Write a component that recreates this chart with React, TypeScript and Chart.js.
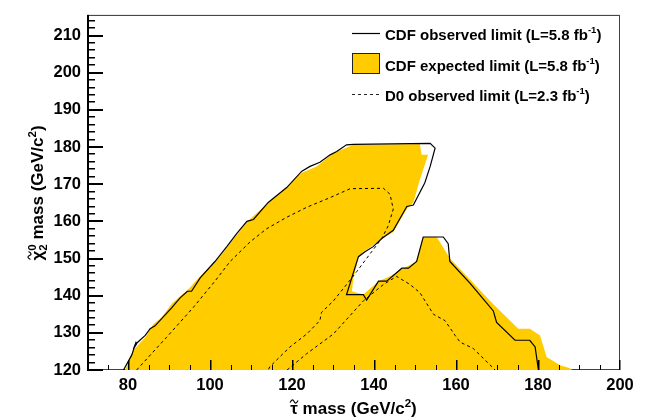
import React, { useEffect, useRef } from 'react';
import { Chart, registerables } from 'chart.js';

Chart.register(...registerables);

// ---------- data ----------
const X_MIN = 70;
const X_MAX = 200;
const Y_MIN = 120;
const Y_MAX = 215.3;

const xTickValues = [80, 100, 120, 140, 160, 180, 200];
const yTickValues = [120, 130, 140, 150, 160, 170, 180, 190, 200, 210];

// CDF observed limit (solid contour)
const observedX = [78.9, 80.9, 82.0, 81.3, 82.3, 84.2, 85.4, 86.6, 88.6, 90.7, 92.7, 94.5, 95.5, 97.6, 101.2, 104.1, 106.5, 109.0, 110.6, 114.2, 118.7, 122.4, 124.4, 126.8, 129.3, 130.9, 133.3, 135.0, 153.7, 154.9, 153.7, 152.4, 149.6, 148.0, 146.3, 144.7, 141.9, 139.8, 137.8, 136.2, 133.3, 137.4, 138.2, 141.1, 143.1, 146.8, 148.4, 150.4, 152.0, 156.9, 158.1, 158.5, 163.4, 169.1, 169.9, 174.4, 178.0, 179.3, 180.1];
const observedY = [120, 124.0, 127.6, 125.6, 127.4, 129.3, 131.1, 131.9, 134.3, 136.8, 139.4, 141.2, 141.2, 144.8, 149.2, 153.2, 156.7, 160.0, 160.5, 165.1, 169.1, 173.5, 174.8, 175.9, 177.9, 178.8, 180.6, 180.7, 181.0, 179.7, 174.8, 170.4, 164.4, 164.0, 160.7, 157.6, 155.4, 153.2, 151.8, 150.5, 140.3, 140.3, 138.8, 143.9, 143.9, 147.4, 147.4, 149.2, 155.8, 155.8, 154.0, 149.2, 143.4, 135.9, 132.8, 128.0, 128.0, 126.2, 120];

// CDF expected limit (filled region)
const expectedX = [79.3, 81.3, 84.2, 86.2, 88.2, 90.7, 94.7, 97.6, 102.4, 106.1, 109.3, 113.8, 118.7, 122.4, 126.0, 130.1, 135.0, 151.2, 151.6, 153.2, 151.2, 149.6, 148.0, 144.7, 142.3, 139.8, 137.4, 136.2, 135.0, 134.6, 137.4, 141.1, 143.9, 147.2, 150.4, 152.0, 155.3, 158.5, 164.2, 169.1, 175.2, 178.0, 180.5, 182.1, 185.4, 187.8, 188.3];
const expectedY = [120, 125.3, 128.8, 132.4, 134.1, 137.9, 141.7, 145.2, 150.5, 155.8, 160.2, 164.6, 169.1, 173.1, 174.8, 178.4, 180.6, 180.8, 177.9, 177.9, 171.3, 165.1, 163.3, 157.1, 155.8, 153.6, 151.8, 150.1, 144.8, 141.2, 140.3, 143.9, 145.2, 147.4, 149.2, 155.8, 155.8, 150.1, 143.4, 137.7, 131.1, 131.1, 129.3, 123.5, 121.3, 120.5, 120];

// D0 observed limit (dashed), two branches
const d0UpperX = [82.1, 89.4, 95.9, 101.2, 104.9, 109.8, 113.8, 118.7, 123.6, 129.3, 134.2, 142.3, 143.9, 144.7, 143.5, 141.9, 139.4, 135.8, 133.3, 130.1, 127.2, 126.8, 123.6, 119.5, 114.6, 114.2];
const d0UpperY = [120, 128.8, 136.8, 143.9, 149.2, 154.5, 158.0, 161.1, 163.8, 166.4, 168.8, 168.9, 167.3, 163.3, 158.9, 155.4, 151.8, 146.5, 143.0, 138.6, 135.5, 133.3, 129.7, 126.2, 120.9, 120];
const d0LowerX = [118.8, 123.6, 130.1, 137.4, 142.3, 145.5, 148.8, 151.2, 154.5, 157.3, 159.8, 161.0, 164.2, 169.1, 169.5];
const d0LowerY = [120, 124.4, 129.7, 138.6, 143.0, 145.2, 143.0, 140.8, 135.0, 133.3, 129.3, 127.5, 125.8, 120.5, 120];

const legendLabels = ['CDF observed limit (L=5.8 fb', 'CDF expected limit (L=5.8 fb', 'D0 observed limit (L=2.3 fb'];
const legendSup = ['-1', '-1', '-1'];

// ---------- styles ----------
const FONT = '"Liberation Sans", Arial, Helvetica, sans-serif';
const YELLOW = '#FFCC00';
const FRAME_RED = '#9b1c1c';

const zip = (xs: number[], ys: number[]) => xs.map((x, i) => ({ x, y: ys[i] }));

type Part = { t: string; size: number; dy: number; stack?: string; stackDy?: number };

function partWidth(ctx: CanvasRenderingContext2D, p: Part) {
  ctx.font = `bold ${p.size}px ${FONT}`;
  let w = ctx.measureText(p.t).width;
  if (p.stack) w = Math.max(w, ctx.measureText(p.stack).width);
  return w;
}

function drawRich(ctx: CanvasRenderingContext2D, parts: Part[], x: number, y: number, align: 'left' | 'center' = 'left') {
  const total = parts.reduce((s, p) => s + partWidth(ctx, p), 0);
  let cx = align === 'center' ? x - total / 2 : x;
  ctx.textAlign = 'left';
  ctx.textBaseline = 'alphabetic';
  const positions: number[] = [];
  for (const p of parts) {
    const w = partWidth(ctx, p);
    ctx.font = `bold ${p.size}px ${FONT}`;
    positions.push(cx);
    ctx.fillText(p.t, cx, y + p.dy);
    if (p.stack) ctx.fillText(p.stack, cx, y + (p.stackDy || 0));
    cx += w;
  }
  return positions;
}

function drawTilde(ctx: CanvasRenderingContext2D, cx: number, cy: number, w: number) {
  ctx.save();
  ctx.beginPath();
  ctx.lineWidth = 1.2;
  ctx.strokeStyle = '#000';
  ctx.setLineDash([]);
  const h = 1.6;
  ctx.moveTo(cx - w / 2, cy + h * 0.6);
  ctx.bezierCurveTo(cx - w / 4, cy - h * 1.6, cx - w / 8, cy - h * 1.2, cx, cy);
  ctx.bezierCurveTo(cx + w / 8, cy + h * 1.2, cx + w / 4, cy + h * 1.6, cx + w / 2, cy - h * 0.6);
  ctx.stroke();
  ctx.restore();
}

const TITLE = 17;
const LEG = 15;

const framePlugin = {
  id: 'rootFrame',
  beforeDatasetsDraw(chart: any) {
    const { ctx, chartArea } = chart;
    const { left, right, top, bottom } = chartArea;
    ctx.save();
    ctx.fillStyle = FRAME_RED;
    ctx.fillRect(left, bottom - 1, right - left, 1);
    ctx.fillRect(right - 1, top, 1, bottom - top);
    ctx.fillStyle = '#333';
    ctx.fillRect(left, top - 1, right - left, 1);
    ctx.restore();
  },
  afterDraw(chart: any) {
    const { ctx, chartArea, scales } = chart;
    const { left, right, top, bottom } = chartArea;
    const xs = scales.x;
    const ys = scales.y;
    ctx.save();
    ctx.setLineDash([]);
    ctx.globalAlpha = 1;
    ctx.fillStyle = '#000';
    // left axis line
    ctx.fillRect(left, top - 1, 2, bottom - top + 1);

    // x ticks (inside)
    for (let v = X_MIN; v <= X_MAX; v += 5) {
      const px = Math.round(xs.getPixelForValue(v));
      const major = v % 20 === 0;
      const len = major ? 10 : 5;
      ctx.fillRect(px - (v === X_MAX ? 1 : 0), bottom - len, major ? 1.5 : 1, len);
    }
    // y ticks (inside)
    for (let v = Y_MIN; v <= 214; v += 2) {
      const py = Math.round(ys.getPixelForValue(v));
      const major = v % 10 === 0;
      const len = major ? 16 : 8;
      ctx.fillRect(left, py - 1, len, major ? 2 : 1.5);
    }

    // x title
    const xParts: Part[] = [
      { t: 'τ', size: TITLE, dy: 0 },
      { t: ' mass (GeV/c', size: TITLE, dy: 0 },
      { t: '2', size: 11.5, dy: -7.5 },
      { t: ')', size: TITLE, dy: 0 },
    ];
    const xp = drawRich(ctx, xParts, (left + right) / 2, 414, 'center');
    ctx.font = `bold ${TITLE}px ${FONT}`;
    const tauW = ctx.measureText('τ').width;
    drawTilde(ctx, xp[0] + tauW / 2, 401.5, 8);

    // y title (rotated)
    ctx.save();
    ctx.translate(43, (top + bottom) / 2);
    ctx.rotate(-Math.PI / 2);
    const yParts: Part[] = [
      { t: 'χ', size: TITLE, dy: 0 },
      { t: '0', size: 11.5, dy: -7.5, stack: '2', stackDy: 4 },
      { t: ' mass (GeV/c', size: TITLE, dy: 0 },
      { t: '2', size: 11.5, dy: -7.5 },
      { t: ')', size: TITLE, dy: 0 },
    ];
    ctx.fillStyle = '#000';
    const yp = drawRich(ctx, yParts, 0, 0, 'center');
    ctx.font = `bold ${TITLE}px ${FONT}`;
    const chiW = ctx.measureText('χ').width;
    drawTilde(ctx, yp[0] + chiW / 2, -13.5, 8);
    ctx.restore();

    // legend
    const rowsY = [34, 65, 95];
    const sx0 = 352;
    const sx1 = 380;
    const tx = 385;
    ctx.lineWidth = 1.2;
    ctx.strokeStyle = '#000';
    ctx.beginPath();
    ctx.moveTo(sx0, rowsY[0] - 0.5);
    ctx.lineTo(sx1, rowsY[0] - 0.5);
    ctx.stroke();
    ctx.fillStyle = YELLOW;
    ctx.fillRect(sx0, 53, sx1 - sx0, 21);
    ctx.lineWidth = 1;
    ctx.strokeStyle = '#222';
    ctx.strokeRect(sx0 + 0.5, 53.5, sx1 - sx0 - 1, 20);
    ctx.setLineDash([3, 3]);
    ctx.beginPath();
    ctx.moveTo(sx0, rowsY[2] - 0.5);
    ctx.lineTo(sx1, rowsY[2] - 0.5);
    ctx.stroke();
    ctx.setLineDash([]);
    ctx.fillStyle = '#000';
    for (let i = 0; i < 3; i++) {
      drawRich(ctx, [
        { t: legendLabels[i], size: LEG, dy: 0 },
        { t: legendSup[i], size: 9.5, dy: -6.5 },
        { t: ')', size: LEG, dy: 0 },
      ], tx, rowsY[i] + 5.5);
    }
    ctx.restore();
  },
};

export default function App() {
  const ref = useRef<HTMLCanvasElement | null>(null);
  useEffect(() => {
    document.body.style.margin = '0';
    const canvas = ref.current;
    if (!canvas) return;
    const tickFont = { family: FONT, size: 16.5, weight: 'bold' as const };
    const chart = new Chart(canvas, {
      type: 'line',
      data: {
        datasets: [
          {
            label: 'CDF observed limit',
            data: zip(observedX, observedY),
            borderColor: '#000',
            borderWidth: 1.2,
            pointRadius: 0,
            fill: false,
            tension: 0,
          },
          {
            label: 'D0 observed limit',
            data: zip(d0UpperX, d0UpperY),
            borderColor: '#000',
            borderWidth: 1,
            borderDash: [3, 3],
            pointRadius: 0,
            fill: false,
            tension: 0,
          },
          {
            label: 'D0 observed limit (2)',
            data: zip(d0LowerX, d0LowerY),
            borderColor: '#000',
            borderWidth: 1,
            borderDash: [3, 3],
            pointRadius: 0,
            fill: false,
            tension: 0,
          },
          {
            label: 'CDF expected limit',
            data: zip(expectedX, expectedY),
            borderColor: YELLOW,
            borderWidth: 0,
            backgroundColor: YELLOW,
            pointRadius: 0,
            fill: 'shape',
            tension: 0,
          },
        ],
      },
      options: {
        animation: false,
        responsive: false,
        maintainAspectRatio: false,
        layout: { padding: { top: 11, right: 30, left: 0, bottom: 0 } },
        plugins: { legend: { display: false }, tooltip: { enabled: false } },
        scales: {
          x: {
            type: 'linear',
            min: X_MIN,
            max: X_MAX,
            grid: { display: false, drawTicks: false },
            border: { display: false },
            ticks: { font: tickFont, color: '#000', padding: 6, maxRotation: 0, autoSkip: false },
            afterBuildTicks: (s: any) => { s.ticks = xTickValues.map((v) => ({ value: v })); },
            afterFit: (s: any) => { s.height = 49; },
          },
          y: {
            type: 'linear',
            min: Y_MIN,
            max: Y_MAX,
            grid: { display: false, drawTicks: false },
            border: { display: false },
            ticks: { font: tickFont, color: '#000', padding: 6, autoSkip: false },
            afterBuildTicks: (s: any) => { s.ticks = yTickValues.map((v) => ({ value: v })); },
            afterFit: (s: any) => { s.width = 87; },
          },
        },
      } as any,
      plugins: [framePlugin],
    });
    return () => chart.destroy();
  }, []);
  return (
    <div style={{ position: 'absolute', left: 0, top: 0, width: 650, height: 419, background: '#fff' }}>
      <canvas ref={ref} width={650} height={419} style={{ display: 'block', width: 650, height: 419 }} />
    </div>
  );
}
